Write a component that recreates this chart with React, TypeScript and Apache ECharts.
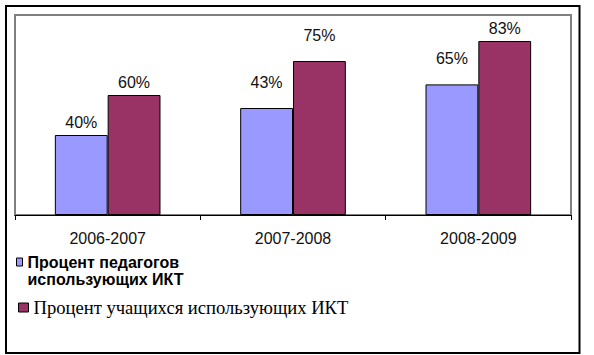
import React, { useEffect, useRef } from "react";
import * as echarts from "echarts";

const categories = ["2006-2007", "2007-2008", "2008-2009"];
const seriesNames = [
  "Процент педагогов использующих ИКТ",
  "Процент учащихся использующих ИКТ",
];
// bar heights as drawn in the reference (percent of the axis)
const teachersValues = [40, 53.5, 65.3];
const studentsValues = [60, 77, 87];
// label texts as printed in the reference
const teachersLabels = ["40%", "43%", "65%"];
const studentsLabels = ["60%", "75%", "83%"];

// style: a few labels sit higher above their bars in the reference (px)
const teachersLabelLift = [0, 13, 13];
const studentsLabelLift = [0, 13, 0];

const SANS = "'Liberation Sans', Arial, sans-serif";
const SERIF = "'Liberation Serif', 'Times New Roman', serif";

// legend marker drawn in the top part of a tall symbol box, so that it stays
// level with the first line of a two-line legend text
const TOP_SQUARE_ICON = "path://M0,0L6,0L6,8L0,8ZM0,25L0,25";

export default function App() {
  const ref = useRef<HTMLDivElement>(null);

  useEffect(() => {
    if (!ref.current) return;
    const chart = echarts.init(ref.current, null, { renderer: "svg" });

    const makeData = (values: number[], lift: number[]) =>
      values.map((v, i) => ({ value: v, label: { offset: [0, -lift[i]] } }));

    const labelBase = {
      show: true,
      position: "top",
      distance: 5,
      fontFamily: SANS,
      fontSize: 16,
      color: "#111",
    };

    const option = {
      animation: false,
      backgroundColor: "#ffffff",
      grid: {
        left: 15,
        right: 23,
        top: 15,
        bottom: 140,
        show: true,
        borderColor: "#808080",
        borderWidth: 2,
        backgroundColor: "transparent",
      },
      xAxis: {
        type: "category",
        data: categories,
        axisLine: { show: true, lineStyle: { color: "#000", width: 1 } },
        axisTick: { show: true, length: 5, lineStyle: { color: "#000" } },
        axisLabel: { color: "#111", fontSize: 16, fontFamily: SANS, margin: 15 },
        splitLine: { show: false },
      },
      yAxis: { type: "value", min: 0, max: 100, show: false },
      legend: [
        {
          data: [{ name: seriesNames[0] }],
          orient: "vertical",
          left: 16,
          top: 253.5,
          padding: 0,
          itemWidth: 6,
          itemHeight: 25,
          icon: TOP_SQUARE_ICON,
          selectedMode: false,
          itemStyle: { borderColor: "#000", borderWidth: 1 },
          formatter: (name: string) => name.replace(" использующих", "\nиспользующих"),
          textStyle: {
            fontFamily: SANS,
            fontWeight: "bold",
            fontSize: 16,
            color: "#000",
            lineHeight: 17,
          },
        },
        {
          data: [{ name: seriesNames[1] }],
          orient: "vertical",
          left: 18,
          top: 298,
          padding: 0,
          itemWidth: 10,
          itemHeight: 9,
          icon: "rect",
          selectedMode: false,
          itemStyle: { borderColor: "#000", borderWidth: 1 },
          textStyle: { fontFamily: SERIF, fontSize: 18.6, color: "#000" },
        },
      ],
      series: [
        {
          name: seriesNames[0],
          type: "bar",
          barGap: "0%",
          barCategoryGap: "43%",
          data: makeData(teachersValues, teachersLabelLift),
          itemStyle: { color: "#9999FF", borderColor: "#000", borderWidth: 1 },
          label: { ...labelBase, formatter: (p: any) => teachersLabels[p.dataIndex] },
        },
        {
          name: seriesNames[1],
          type: "bar",
          barGap: "0%",
          barCategoryGap: "43%",
          data: makeData(studentsValues, studentsLabelLift),
          itemStyle: { color: "#993366", borderColor: "#000", borderWidth: 1 },
          label: { ...labelBase, formatter: (p: any) => studentsLabels[p.dataIndex] },
        },
      ],
      graphic: [
        {
          type: "rect",
          silent: true,
          z: 100,
          shape: { x: 6, y: 6, width: 573.5, height: 347 },
          style: { fill: "none", stroke: "#000", lineWidth: 2 },
        },
      ],
    };

    chart.setOption(option as any);
    return () => chart.dispose();
  }, []);

  return (
    <div
      ref={ref}
      style={{ position: "fixed", left: 0, top: 0, width: 594, height: 355 }}
    />
  );
}
